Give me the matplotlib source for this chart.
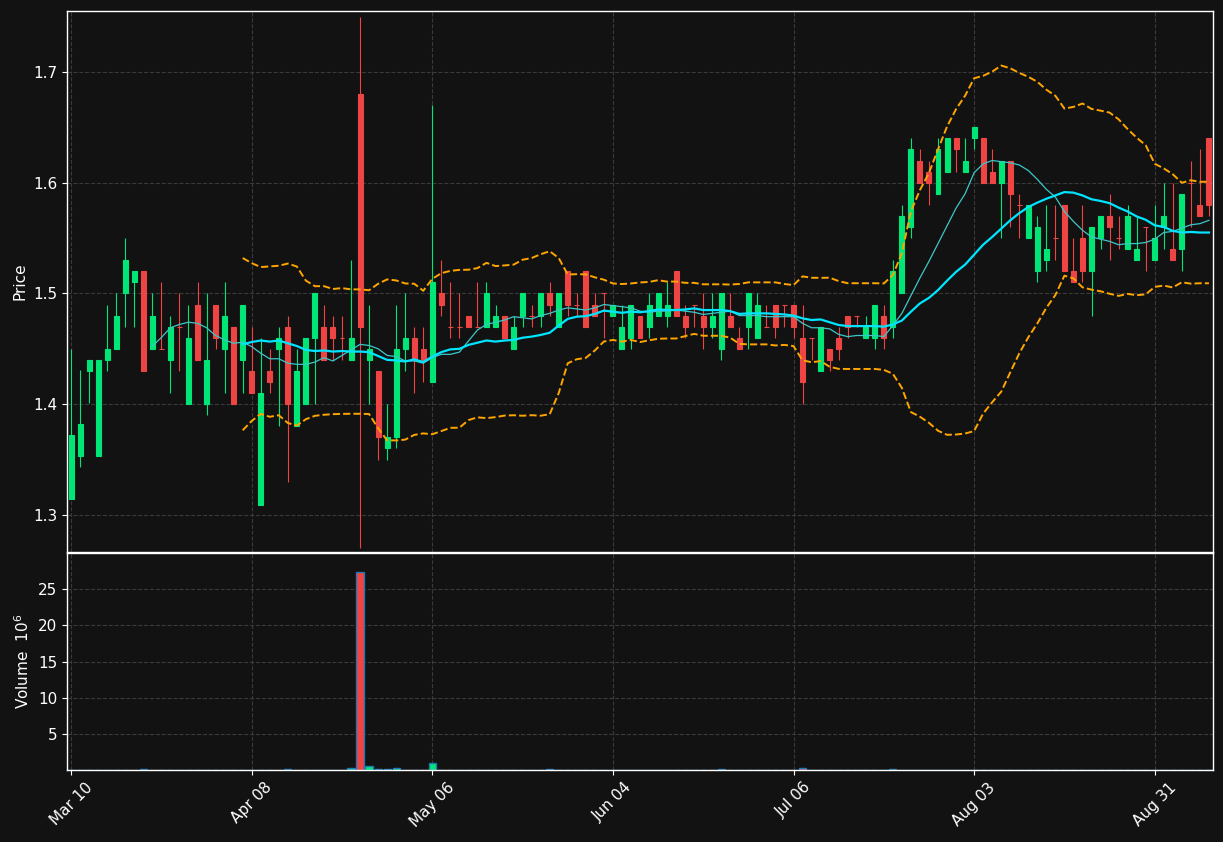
import numpy as np
import pandas as pd
import matplotlib
matplotlib.use('Agg')
import matplotlib.pyplot as plt


# daily OHLC (one entry per trading day)
opens = [1.314, 1.353, 1.43, 1.353, 1.44, 1.45, 1.50, 1.51, 1.52, 1.45,
         1.45, 1.44, 1.47, 1.40, 1.49, 1.40, 1.49, 1.45, 1.47, 1.44,
         1.43, 1.309, 1.43, 1.45, 1.47, 1.38, 1.40, 1.46, 1.47, 1.47,
         1.46, 1.44, 1.68, 1.44, 1.43, 1.36, 1.37, 1.45, 1.46, 1.45,
         1.42, 1.50, 1.47, 1.47, 1.48, 1.47, 1.47, 1.47, 1.48, 1.45,
         1.48, 1.48, 1.48, 1.50, 1.47, 1.52, 1.49, 1.52, 1.49, 1.50,
         1.48, 1.45, 1.46, 1.48, 1.47, 1.48, 1.48, 1.52, 1.48, 1.49,
         1.48, 1.47, 1.45, 1.48, 1.46, 1.47, 1.46, 1.47, 1.49, 1.49,
         1.49, 1.46, 1.46, 1.43, 1.45, 1.46, 1.48, 1.48, 1.46, 1.46,
         1.48, 1.47, 1.50, 1.56, 1.62, 1.61, 1.59, 1.61, 1.64, 1.61,
         1.64, 1.64, 1.61, 1.60, 1.62, 1.58, 1.55, 1.52, 1.53, 1.55,
         1.58, 1.52, 1.55, 1.52, 1.55, 1.57, 1.55, 1.54, 1.53, 1.56,
         1.53, 1.56, 1.54, 1.54, 1.60, 1.58, 1.64]
highs = [1.45, 1.431, 1.44, 1.44, 1.49, 1.50, 1.55, 1.52, 1.52, 1.50,
         1.51, 1.48, 1.50, 1.49, 1.51, 1.50, 1.49, 1.51, 1.47, 1.49,
         1.47, 1.46, 1.45, 1.47, 1.48, 1.45, 1.46, 1.50, 1.49, 1.48,
         1.48, 1.53, 1.75, 1.49, 1.43, 1.40, 1.49, 1.50, 1.47, 1.47,
         1.67, 1.53, 1.51, 1.50, 1.48, 1.51, 1.51, 1.49, 1.48, 1.48,
         1.50, 1.49, 1.50, 1.51, 1.50, 1.52, 1.50, 1.52, 1.50, 1.50,
         1.49, 1.49, 1.49, 1.48, 1.50, 1.50, 1.51, 1.52, 1.49, 1.49,
         1.50, 1.50, 1.50, 1.50, 1.47, 1.50, 1.50, 1.49, 1.49, 1.49,
         1.49, 1.49, 1.46, 1.47, 1.45, 1.47, 1.48, 1.48, 1.48, 1.49,
         1.49, 1.53, 1.58, 1.64, 1.63, 1.62, 1.64, 1.64, 1.64, 1.64,
         1.65, 1.64, 1.63, 1.62, 1.62, 1.59, 1.58, 1.57, 1.58, 1.58,
         1.58, 1.55, 1.58, 1.56, 1.57, 1.59, 1.57, 1.58, 1.57, 1.56,
         1.58, 1.60, 1.60, 1.59, 1.62, 1.63, 1.64]
lows = [1.314, 1.343, 1.401, 1.353, 1.43, 1.45, 1.47, 1.47, 1.43, 1.45,
        1.45, 1.41, 1.43, 1.40, 1.44, 1.39, 1.45, 1.41, 1.40, 1.41,
        1.41, 1.309, 1.41, 1.38, 1.33, 1.38, 1.40, 1.40, 1.44, 1.44,
        1.44, 1.44, 1.27, 1.40, 1.35, 1.35, 1.36, 1.43, 1.41, 1.42,
        1.42, 1.48, 1.46, 1.46, 1.47, 1.47, 1.47, 1.47, 1.46, 1.45,
        1.47, 1.47, 1.47, 1.48, 1.47, 1.48, 1.48, 1.47, 1.48, 1.46,
        1.48, 1.45, 1.45, 1.46, 1.46, 1.48, 1.47, 1.48, 1.46, 1.47,
        1.45, 1.46, 1.44, 1.47, 1.45, 1.45, 1.46, 1.47, 1.46, 1.47,
        1.46, 1.40, 1.44, 1.43, 1.43, 1.44, 1.46, 1.47, 1.46, 1.45,
        1.45, 1.46, 1.50, 1.55, 1.60, 1.58, 1.59, 1.61, 1.61, 1.61,
        1.63, 1.60, 1.60, 1.55, 1.56, 1.55, 1.55, 1.51, 1.52, 1.53,
        1.52, 1.51, 1.51, 1.48, 1.54, 1.53, 1.54, 1.54, 1.53, 1.52,
        1.53, 1.54, 1.53, 1.52, 1.56, 1.57, 1.57]
closes = [1.372, 1.382, 1.44, 1.44, 1.45, 1.48, 1.53, 1.52, 1.43, 1.48,
          1.45, 1.47, 1.47, 1.46, 1.44, 1.44, 1.46, 1.48, 1.40, 1.49,
          1.41, 1.41, 1.42, 1.46, 1.40, 1.43, 1.46, 1.50, 1.44, 1.46,
          1.46, 1.46, 1.47, 1.45, 1.37, 1.37, 1.45, 1.46, 1.44, 1.44,
          1.51, 1.49, 1.47, 1.47, 1.47, 1.47, 1.50, 1.48, 1.46, 1.47,
          1.50, 1.48, 1.50, 1.49, 1.50, 1.49, 1.49, 1.47, 1.48, 1.50,
          1.49, 1.47, 1.49, 1.46, 1.49, 1.50, 1.49, 1.48, 1.47, 1.49,
          1.47, 1.48, 1.50, 1.47, 1.45, 1.50, 1.49, 1.47, 1.47, 1.49,
          1.47, 1.42, 1.46, 1.47, 1.44, 1.45, 1.47, 1.48, 1.47, 1.49,
          1.46, 1.52, 1.57, 1.63, 1.60, 1.60, 1.63, 1.64, 1.63, 1.62,
          1.65, 1.60, 1.60, 1.62, 1.59, 1.58, 1.58, 1.56, 1.54, 1.55,
          1.52, 1.51, 1.52, 1.56, 1.57, 1.56, 1.55, 1.57, 1.54, 1.56,
          1.55, 1.57, 1.53, 1.59, 1.60, 1.57, 1.58]
# volume in millions
volumes = [0.02, 0.01, 0.02, 0.01, 0.02, 0.02, 0.03, 0.01, 0.12, 0.02,
           0.01, 0.02, 0.01, 0.02, 0.02, 0.01, 0.02, 0.01, 0.02, 0.02,
           0.01, 0.03, 0.02, 0.01, 0.10, 0.02, 0.01, 0.02, 0.02, 0.01,
           0.02, 0.25, 27.35, 0.60, 0.08, 0.08, 0.23, 0.03, 0.02, 0.02,
           0.95, 0.06, 0.06, 0.02, 0.01, 0.06, 0.06, 0.02, 0.01, 0.02,
           0.01, 0.02, 0.01, 0.08, 0.02, 0.01, 0.02, 0.01, 0.02, 0.01,
           0.02, 0.01, 0.02, 0.01, 0.02, 0.01, 0.02, 0.01, 0.02, 0.01,
           0.02, 0.01, 0.08, 0.02, 0.01, 0.02, 0.01, 0.02, 0.01, 0.02,
           0.02, 0.30, 0.02, 0.01, 0.02, 0.01, 0.02, 0.01, 0.02, 0.01,
           0.02, 0.08, 0.02, 0.03, 0.02, 0.01, 0.02, 0.01, 0.02, 0.01,
           0.02, 0.01, 0.02, 0.01, 0.02, 0.01, 0.02, 0.01, 0.02, 0.01,
           0.02, 0.01, 0.02, 0.01, 0.02, 0.01, 0.02, 0.01, 0.02, 0.01,
           0.02, 0.01, 0.02, 0.01, 0.02, 0.01, 0.02]
tick_labels = ['Mar 10', 'Apr 08', 'May 06', 'Jun 04', 'Jul 06', 'Aug 03', 'Aug 31']


bg = '#121212'
up = '#00e676'
down = '#ef4444'
grid_c = '#3a3a3a'
fs = 11

n = len(closes)
x = np.arange(n)
o = np.array(opens)
c = np.array(closes)
colors = [up if cc > oo else down for oo, cc in zip(o, c)]

# moving averages + bollinger (20, 2)
cs = pd.Series(closes)
sma10 = cs.rolling(10).mean()
sma20 = cs.rolling(20).mean()
std20 = cs.rolling(20).std(ddof=0)
bb_up = sma20 + 2 * std20
bb_lo = sma20 - 2 * std20

fig = plt.figure(figsize=(12.23, 8.42), dpi=100, facecolor=bg)
ax = fig.add_axes([0.0548, 0.3444, 0.937, 0.6425])
axv = fig.add_axes([0.0548, 0.0855, 0.937, 0.2583], sharex=ax)

for a in (ax, axv):
    a.set_facecolor(bg)
    a.set_axisbelow(True)
    a.grid(True, ls='--', color=grid_c, lw=0.8)
    for s in a.spines.values():
        s.set_color('white')
        s.set_linewidth(1.0)
    a.tick_params(colors='white', labelsize=fs)

# candles
ax.vlines(x, lows, highs, colors=colors, lw=0.8)
ax.bar(x, c - o, bottom=o, width=0.55, color=colors, edgecolor=colors, linewidth=0.8)

ax.plot(x, sma10, color='#3cc8c8', lw=0.9)
ax.plot(x, sma20, color='#00e5ff', lw=1.6)
ax.plot(x, bb_up, color='orange', ls='--', lw=1.4)
ax.plot(x, bb_lo, color='orange', ls='--', lw=1.4)

ax.set_ylim(min(lows) - 0.0035, max(highs) + 0.005)
ax.set_xlim(-0.45, n - 0.55)
ax.set_ylabel('Price', color='white', fontsize=fs)
ax.tick_params(axis='x', labelbottom=False, length=0)

# volume
axv.bar(x, volumes, width=0.8, color=colors, edgecolor='#1f77b4', linewidth=1.0)
axv.set_ylim(0, max(volumes) * 1.1)
axv.set_yticks([5, 10, 15, 20, 25])
axv.set_ylabel('Volume  $10^{6}$', color='white', fontsize=fs)
axv.set_xticks(x[::20])
axv.set_xticklabels(tick_labels, rotation=45)

fig.savefig('out.png', dpi=100, facecolor=bg)
